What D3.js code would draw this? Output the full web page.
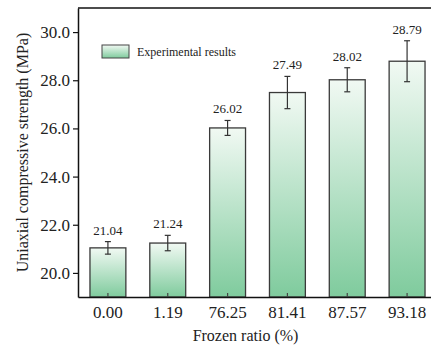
<!DOCTYPE html>
<html><head><meta charset="utf-8">
<script src="https://cdn.jsdelivr.net/npm/d3@7"></script>
<style>body{margin:0;background:#fff}svg{display:block}</style>
</head><body>
<script>
const categories = ["0.00","1.19","76.25","81.41","87.57","93.18"];
const values = [21.04,21.24,26.02,27.49,28.02,28.79];
const errors = [0.26,0.32,0.31,0.67,0.50,0.85];
const yTicks = [20,22,24,26,28,30];
const legendLabel = "Experimental results";

const W=431,H=350;
const m={left:78,top:8,right:437,bottom:297};
const font="'Liberation Serif','Times New Roman',serif";
const svg=d3.select("body").append("svg").attr("width",W).attr("height",H);
const defs=svg.append("defs");
const g=defs.append("linearGradient").attr("id","grad").attr("x1",0).attr("y1",0).attr("x2",0).attr("y2",1);
g.append("stop").attr("offset","0%").attr("stop-color","#f1f9f3");
g.append("stop").attr("offset","50%").attr("stop-color","#b8e2c8");
g.append("stop").attr("offset","100%").attr("stop-color","#7fcb9d");

const x=d3.scaleBand().domain(categories).range([m.left,m.right]).paddingInner(0.4).paddingOuter(0.2);
const y=d3.scaleLinear().domain([19,31]).range([m.bottom,m.top]);

// bars
categories.forEach((c,i)=>{
  const gi=defs.append("linearGradient").attr("id","gb"+i).attr("gradientUnits","userSpaceOnUse")
    .attr("x1",0).attr("x2",0).attr("y1",y(values[i])).attr("y2",y(19));
  gi.append("stop").attr("offset","0%").attr("stop-color","#f1f9f3");
  gi.append("stop").attr("offset","100%").attr("stop-color","#7fcb9d");
});
svg.selectAll("rect.bar").data(values).join("rect").attr("class","bar")
  .attr("x",(d,i)=>x(categories[i])).attr("width",x.bandwidth())
  .attr("y",d=>y(d)).attr("height",d=>y(19)-y(d))
  .attr("fill",(d,i)=>"url(#gb"+i+")").attr("stroke","#3a3a3a").attr("stroke-width",1.3);

// error bars
const eg=svg.append("g").attr("stroke","#333").attr("stroke-width",1.2);
values.forEach((v,i)=>{
  const cx=x(categories[i])+x.bandwidth()/2;
  eg.append("line").attr("x1",cx).attr("x2",cx).attr("y1",y(v+errors[i])).attr("y2",y(v-errors[i]));
  eg.append("line").attr("x1",cx-3).attr("x2",cx+3).attr("y1",y(v+errors[i])).attr("y2",y(v+errors[i]));
  eg.append("line").attr("x1",cx-3).attr("x2",cx+3).attr("y1",y(v-errors[i])).attr("y2",y(v-errors[i]));
  svg.append("text").attr("x",cx).attr("y",y(v+errors[i])-7).attr("text-anchor","middle")
    .attr("font-family",font).attr("font-size",13).attr("fill","#222").text(v.toFixed(2));
});

// axes
const xa=svg.append("g").attr("transform",`translate(0,${m.bottom})`)
  .call(d3.axisBottom(x).tickSizeInner(-4).tickSizeOuter(0).tickPadding(9));
xa.select(".domain").attr("stroke","#111").attr("stroke-width",1.5);
xa.selectAll(".tick line").attr("stroke","#444").attr("stroke-width",1.2);
xa.selectAll("text").attr("font-family",font).attr("font-size",17).attr("fill","#222");

const ya=svg.append("g").attr("transform",`translate(${m.left},0)`)
  .call(d3.axisLeft(y).tickValues(yTicks).tickFormat(d3.format(".1f")).tickSizeInner(5).tickSizeOuter(0).tickPadding(3));
ya.select(".domain").attr("stroke","#111").attr("stroke-width",1.5);
ya.selectAll(".tick line").attr("stroke","#111").attr("stroke-width",1.2);
ya.selectAll("text").attr("font-family",font).attr("font-size",17).attr("fill","#222");

svg.append("line").attr("x1",m.left).attr("x2",W+10).attr("y1",m.top).attr("y2",m.top)
  .attr("stroke","#111").attr("stroke-width",1.5);

// labels
svg.append("text").attr("x",(m.left+m.right)/2-12).attr("y",341).attr("text-anchor","middle")
  .attr("font-family",font).attr("font-size",16).attr("fill","#222").text("Frozen ratio (%)");
svg.append("text").attr("transform",`translate(28,${(m.top+m.bottom)/2}) rotate(-90)`).attr("text-anchor","middle")
  .attr("font-family",font).attr("font-size",16).attr("fill","#222").text("Uniaxial compressive strength (MPa)");

// legend
svg.append("rect").attr("x",102).attr("y",45).attr("width",27).attr("height",13)
  .attr("fill","url(#grad)").attr("stroke","#444").attr("stroke-width",1);
svg.append("text").attr("x",137).attr("y",56).attr("font-family",font).attr("font-size",12).attr("fill","#222").text(legendLabel);
</script>
</body></html>
